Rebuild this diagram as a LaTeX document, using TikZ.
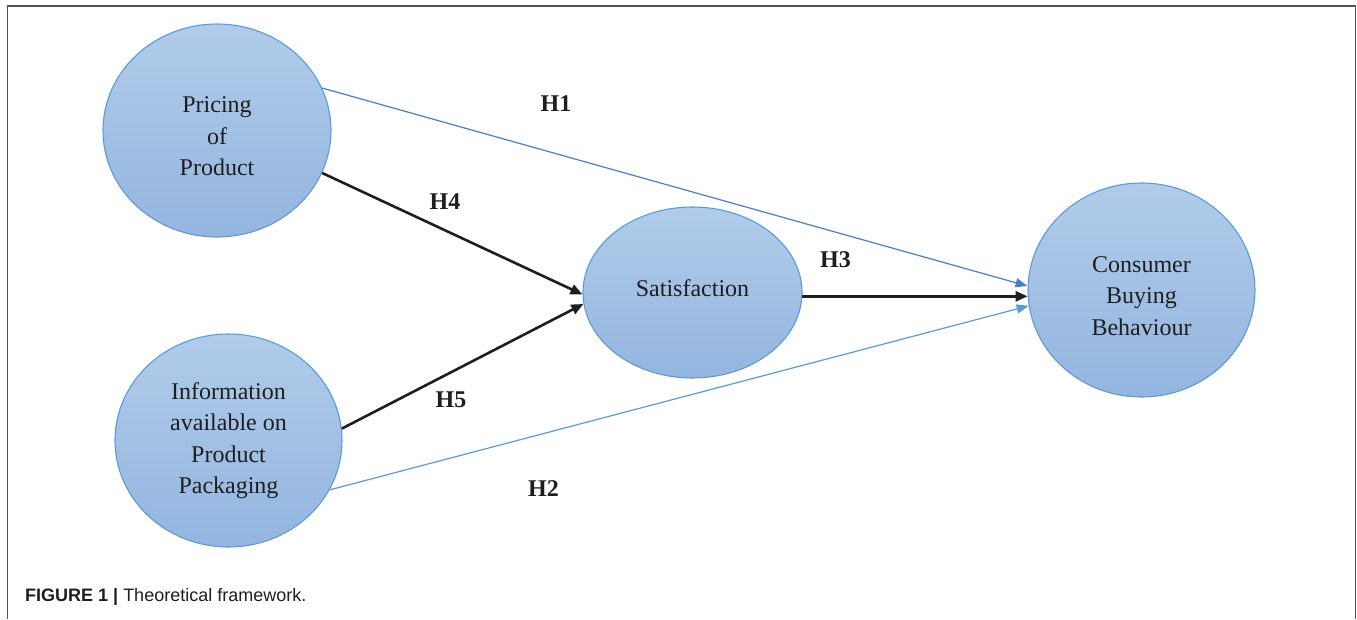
\documentclass[tikz,border=0pt]{standalone}
\usepackage{fontspec}
\setmainfont{Liberation Serif}
\newfontfamily\capfont{Liberation Sans}
\usetikzlibrary{shapes.geometric,arrows.meta}
\definecolor{ellTop}{HTML}{B1CCEA}
\definecolor{ellBot}{HTML}{93B5DF}
\definecolor{ellLine}{HTML}{5B9BD5}
\definecolor{blueArr}{HTML}{4A7DCB}
\definecolor{blueArrB}{HTML}{5B9BD5}
\definecolor{frameGray}{HTML}{555555}
\definecolor{inkText}{HTML}{1E1E1E}
\begin{document}
\begin{tikzpicture}[x=1pt,y=-1pt,
  construct/.style={ellipse, draw=ellLine, line width=1.1pt, top color=ellTop, bottom color=ellBot, inner sep=0pt},
  ctext/.style={align=center, inner sep=0pt, font=\fontsize{24}{31.5}\selectfont, text=inkText},
  strongarrow/.style={line width=2.6pt, draw=inkText, -{Triangle[length=12pt,width=10pt]}},
  weakarrow/.style={line width=1.2pt, draw=blueArr, -{Triangle[length=12pt,width=9pt]}},
  hyp/.style={inner sep=0pt, font=\fontsize{24}{28}\selectfont\bfseries, text=inkText}]
\useasboundingbox (0,0) rectangle (1357,619);
\draw[frameGray, line width=1.6pt] (7.5,619) -- (7.5,6) -- (1355.5,6) -- (1355.5,619);

\node[construct, minimum width=228pt, minimum height=213pt] (price) at (217,130.5) {};
\node[construct, minimum width=227pt, minimum height=213pt] (info) at (228.5,440.5) {};
\node[construct, minimum width=219pt, minimum height=171pt] (sat) at (692.5,292.5) {};
\node[construct, minimum width=227pt, minimum height=214pt] (cbb) at (1141.5,290) {};

\node[ctext] (priceT) at (217,136.5) {Pricing\\of\\Product};
\node[ctext] (infoT) at (228.5,440.5) {Information\\available on\\Product\\Packaging};
\node[ctext] (satT) at (692.5,288.5) {Satisfaction};
\node[ctext] (cbbT) at (1141.5,296) {Consumer\\Buying\\Behaviour};

\draw[weakarrow] (price.22) -- (cbb.178.5);
\draw[weakarrow, draw=blueArrB] (info.334) -- (cbb.188.5);
\draw[strongarrow] (price.338) -- (sat.181.3);
\draw[strongarrow] (info.6.8) -- (sat.186.5);
\draw[strongarrow] (sat.358) -- (sat.358 -| cbb.183);

\node[hyp] (h1) at (556,104) {H1};
\node[hyp] (h4) at (445,202) {H4};
\node[hyp] (h3) at (835.5,259.5) {H3};
\node[hyp] (h5) at (451,400) {H5};
\node[hyp] (h2) at (543.5,488.5) {H2};

\node[anchor=base west, inner sep=0pt, font=\capfont\fontsize{18}{21}\selectfont, text=inkText] (cap) at (25,601.5) {\textbf{FIGURE 1 |} Theoretical framework.};
\end{tikzpicture}
\end{document}
